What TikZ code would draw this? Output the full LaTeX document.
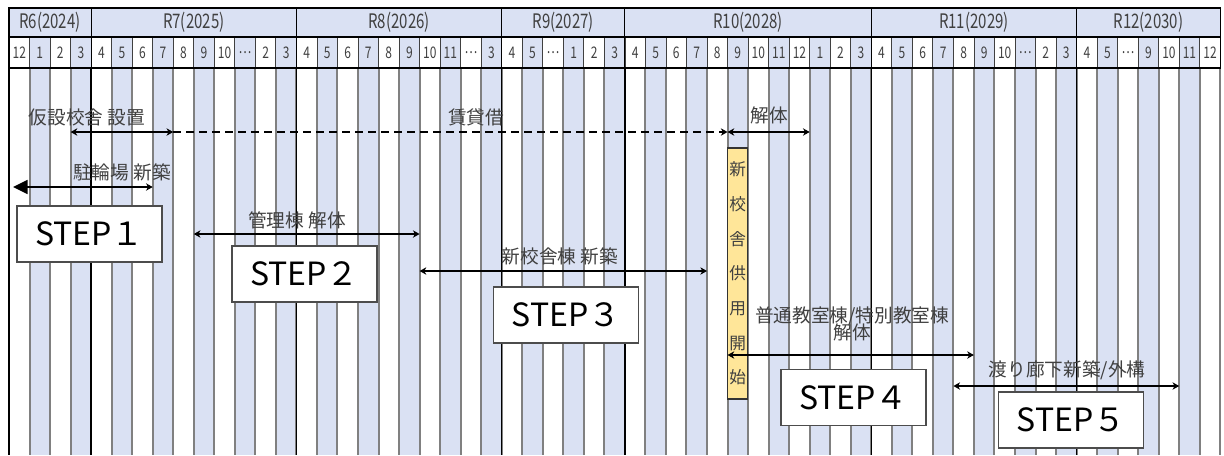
\documentclass[tikz,border=0pt]{standalone}
\usepackage{fontspec}
\setmainfont{Noto Sans CJK JP}
\newfontfamily\hdrfont[FakeStretch=0.75]{Noto Sans CJK JP}
\usetikzlibrary{arrows.meta}

\definecolor{stripe}{RGB}{218,225,243}
\definecolor{gridgray}{RGB}{128,128,128}
\definecolor{useyellow}{RGB}{255,230,153}
\definecolor{labelgray}{RGB}{64,64,64}

% x position of column boundary #1
\newcommand{\cx}[1]{9+20.53*(#1)}

\tikzset{
  stepbox/.style={draw=black!70,fill=white,line width=0.8pt,minimum width=108.75pt,minimum height=42pt,inner sep=0pt,font=\fontsize{24pt}{24pt}\selectfont},
  lbl/.style={text=labelgray,inner sep=0pt,font=\fontsize{14pt}{15pt}\selectfont},
  yrlbl/.style={text=labelgray,inner sep=0pt,font=\hdrfont\fontsize{15pt}{15pt}\selectfont},
  molbl/.style={text=labelgray,inner sep=0pt,font=\hdrfont\fontsize{12pt}{12pt}\selectfont},
  spanarrow/.style={line width=1.3pt,{Stealth[length=5pt,width=5.5pt,inset=1.5pt]}-{Stealth[length=5pt,width=5.5pt,inset=1.5pt]}},
}

\begin{document}
\begin{tikzpicture}[x=0.75pt,y=-0.75pt]

%SPACING
\useasboundingbox (0,0) rectangle (1224,455);
%SPACING

%STRIPES
\fill[stripe] ({\cx{0}},8) rectangle ({\cx{59}},37);
\foreach \i in {1,3,...,57}
  \fill[stripe] ({\cx{\i}},37) rectangle ({\cx{\i+1}},455);

%BODY LINES
\foreach \i in {1,...,59}
  \draw[gridgray,line width=1.5pt] ({\cx{\i}},68) -- ({\cx{\i}},455);
\foreach \i in {0,4,14,24,30,42,52}
  \draw[black,line width=1pt] ({\cx{\i}},68) -- ({\cx{\i}},455);

%HEADER
\foreach \i in {1,...,58}
  \draw[black!75,line width=0.6pt] ({\cx{\i}},37) -- ({\cx{\i}},68);
\foreach \i in {4,14,24,30,42,52}
  \draw[black,line width=0.8pt] ({\cx{\i}},8) -- ({\cx{\i}},68);
\draw[black,line width=0.8pt] ({\cx{0}},37) -- ({\cx{59}},37);
\draw[black,line width=0.8pt] ({\cx{0}},8) rectangle ({\cx{59}},68);

\node[yrlbl](y6) at ({\cx{2}},22.5) {R6(2024)};
\node[yrlbl](y7) at ({\cx{9}},22.5) {R7(2025)};
\node[yrlbl](y8) at ({\cx{19}},22.5) {R8(2026)};
\node[yrlbl](y9) at ({\cx{27}},22.5) {R9(2027)};
\node[yrlbl](y10) at ({\cx{36}},22.5) {R10(2028)};
\node[yrlbl](y11) at ({\cx{47}},22.5) {R11(2029)};
\node[yrlbl](y12) at ({\cx{55.5}},22.5) {R12(2030)};

\foreach \m [count=\k from 0] in {12,1,2,3,4,5,6,7,8,9,10,…,2,3,4,5,6,7,8,9,10,11,…,3,4,5,…,1,2,3,4,5,6,7,8,9,10,11,12,1,2,3,4,5,6,7,8,9,10,…,2,3,4,5,…,9,10,11,12}
  \node[molbl](m\k) at ({\cx{\k+0.5}},52.5) {\m};

%OPENING
\node[draw=black!80,fill=useyellow,line width=0.8pt,minimum width=15pt,minimum height=188.25pt,inner sep=0pt,align=center,text=labelgray,font=\fontsize{12.5pt}{26pt}\selectfont](open) at ({\cx{35.5}},273.5) {新\\校\\舎\\供\\用\\開\\始};

%ARROW ENDS
\coordinate (a1) at ({\cx{3}},132);
\coordinate (a2) at ({\cx{8}},132);
\coordinate (a3) at ({\cx{35}},132);
\coordinate (a4) at ({\cx{39}},132);
\coordinate (b1) at (13,187);
\coordinate (b2) at ({\cx{7}},187);
\coordinate (c1) at ({\cx{9}},234);
\coordinate (c2) at ({\cx{20}},234);
\coordinate (d1) at ({\cx{20}},271);
\coordinate (d2) at ({\cx{34}},271);
\coordinate (e1) at ({\cx{35}},355);
\coordinate (e2) at ({\cx{47}},355);
\coordinate (f1) at ({\cx{46}},386);
\coordinate (f2) at ({\cx{57}},386);

\draw[spanarrow] (a1) -- (a2);
\draw[line width=1.3pt,dash pattern=on 6pt off 3.75pt,-{Stealth[length=5pt,width=5.5pt,inset=1.5pt]}] (a2) -- (a3);
\draw[spanarrow] (a3) -- (a4);
\draw[line width=1.3pt,{Triangle[length=11pt,width=10.5pt]}-{Stealth[length=5pt,width=5.5pt,inset=1.5pt]}] (b1) -- (b2);
\draw[spanarrow] (c1) -- (c2);
\draw[spanarrow] (d1) -- (d2);
\draw[spanarrow] (e1) -- (e2);
\draw[spanarrow] (f1) -- (f2);

%LABELS
\node[lbl](t1) at (87,117) {仮設校舎 設置};
\node[lbl](t2) at (476,117) {賃貸借};
\node[lbl](t3) at (769,115) {解体};
\node[lbl](t4) at (122,172) {駐輪場 新築};
\node[lbl](t5) at (297,220) {管理棟 解体};
\node[lbl](t6) at (560,256) {新校舎棟 新築};
\node[lbl,align=center](t7) at (852,324) {普通教室棟/特別教室棟\\[-2.5pt]解体};
\node[lbl](t8) at (1067,370) {渡り廊下新築/外構};

%STEPS
\node[stepbox](s1) at (89.5,234) {STEP１};
\node[stepbox](s2) at (304.5,274) {STEP２};
\node[stepbox](s3) at (566,315) {STEP３};
\node[stepbox](s4) at (853.5,397.5) {STEP４};
\node[stepbox](s5) at (1071,420) {STEP５};

\end{tikzpicture}
\end{document}
